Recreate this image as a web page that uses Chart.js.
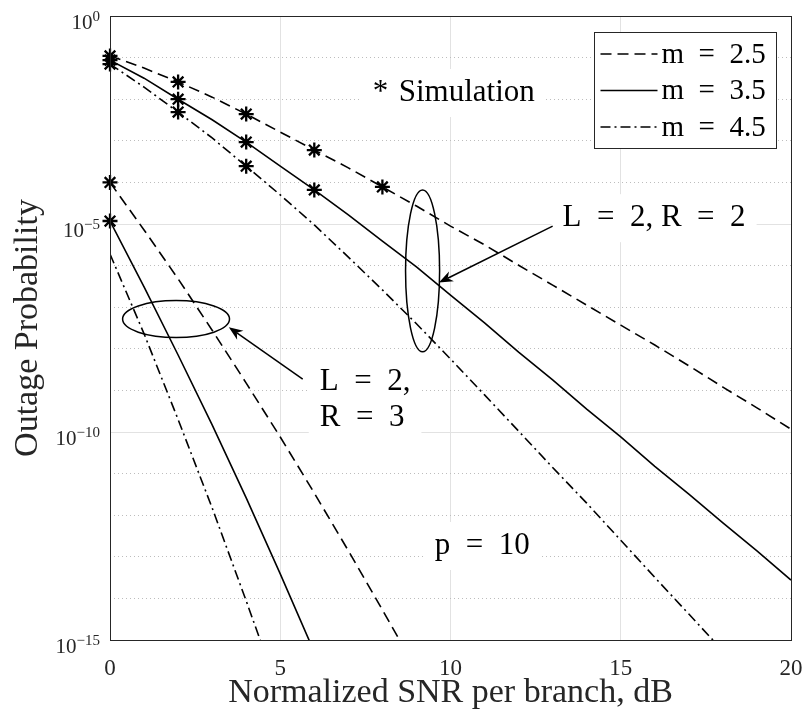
<!DOCTYPE html>
<html>
<head>
<meta charset="utf-8">
<script src="https://cdn.jsdelivr.net/npm/chart.js@4.4.1/dist/chart.umd.min.js"></script>
<style>
  html, body { margin: 0; padding: 0; background: #fff; }
</style>
</head>
<body>
<canvas id="chart" width="807" height="715"></canvas>
<script>
// SNR axis (dB)
let snrDb = [0, 1, 2, 3, 4, 5, 6, 7, 8, 9, 10, 11, 12, 13, 14, 15, 16, 17, 18, 19, 20]

// analytic curves, L = 2, R = 2
let r2m25 = [1.1e-1, 5.6e-2, 2.6e-2, 1.12e-2, 4.4e-3, 1.62e-3, 6.0e-4, 2.24e-4, 7.8e-5, 2.7e-5, 8.9e-6,
             3.16e-6, 1.02e-6, 3.4e-7, 1.12e-7, 3.7e-8, 1.23e-8, 3.9e-9, 1.2e-9, 3.8e-10, 1.17e-10]
let r2m35 = [8.7e-2, 3.2e-2, 1.0e-2, 3.2e-3, 9.3e-4, 2.45e-4, 6.6e-5, 1.66e-5, 3.9e-6, 9.3e-7, 1.95e-7,
             4.2e-8, 8.3e-9, 1.78e-9, 3.55e-10, 7.6e-11, 1.5e-11, 3.2e-12, 6.5e-13, 1.38e-13, 2.75e-14]
let r2m45 = [7.0e-2, 1.95e-2, 4.9e-3, 1.17e-3, 2.45e-4, 5.0e-5, 9.5e-6, 1.6e-6, 2.6e-7, 4.0e-8, 5.7e-9,
             7.8e-10, 1.05e-10, 1.4e-11, 1.95e-12, 2.5e-13, 3.2e-14, 4.2e-15, 5.5e-16]

// analytic curves, L = 2, R = 3
let r3m25 = [1.0e-4, 7.2e-6, 4.8e-7, 2.8e-8, 1.5e-9, 7.6e-11, 3.4e-12, 1.4e-13, 5.3e-15, 1.9e-16]
let r3m35 = [1.18e-5, 3.1e-7, 7.1e-9, 1.48e-10, 2.6e-12, 3.9e-14, 5.1e-16]
let r3m45 = [1.9e-6, 2.3e-8, 2.0e-10, 1.5e-12, 8.7e-15, 4.5e-17]

// simulation points
let simSnrA = [0, 2, 4, 6, 8]
let simA = [1.1e-1, 2.6e-2, 4.4e-3, 6.0e-4, 7.8e-5]
let simSnrB = [0, 2, 4, 6]
let simB = [8.7e-2, 1.0e-2, 9.3e-4, 6.6e-5]
let simSnrC = [0, 2, 4]
let simC = [7.0e-2, 4.9e-3, 2.45e-4]
let simSnrD = [0, 0]
let simD = [1.0e-4, 1.18e-5]

// axis ticks
let xTicks = [0, 5, 10, 15, 20]
let yTickExps = [0, -1, -2, -3, -4, -5, -6, -7, -8, -9, -10, -11, -12, -13, -14, -15]
let yLabelExps = [0, -5, -10, -15]
let legendNames = ['m = 2.5', 'm = 3.5', 'm = 4.5']

const FONT = "'Liberation Serif', 'Times New Roman', serif"
const TXT = '#262626'
const DASH = [11, 6]
const DASHDOT = [10, 4, 2, 4]

let pts = (xs, ys) => ys.map((y, i) => ({ x: xs[i], y: y }))

function lineSet(data, dash, name) {
    return {
        data: pts(snrDb, data),
        borderColor: '#000',
        borderWidth: 1.6,
        borderDash: dash,
        pointRadius: 0,
        tension: 0,
        legendText: name
    }
}

function starSet(xs, ys) {
    return {
        data: pts(xs, ys),
        showLine: false,
        pointStyle: 'star',
        pointRadius: 7.5,
        borderWidth: 2.3,
        borderColor: '#000',
        backgroundColor: '#000',
        clip: false
    }
}

// annotations (data coordinates)
let notes = [
    { lines: ['*\u2004Simulation'], x: 7.72, y: 1.41e-2 },
    { lines: ['L\u2002=\u20022, R\u2002=\u20022'], x: 13.29, y: 1.38e-5 },
    { lines: ['L\u2002=\u20022,', 'R\u2002=\u20023'], x: 6.16, y: 1.58e-9 },
    { lines: ['p\u2002=\u200210'], x: 9.54, y: 1.82e-13 }
]
let ellipses = [
    { x0: 8.68, x1: 9.68, y0: 6.6e-5, y1: 8.5e-9 },
    { x0: 0.37, x1: 3.51, y0: 1.44e-7, y1: 1.86e-8 }
]
let arrows = [
    { fx: 13.0, fy: 8.9e-6, tx: 9.66, ty: 3.9e-7 },
    { fx: 5.66, fy: 1.86e-9, tx: 3.49, ty: 3.3e-8 }
]

const NOTE_FONT = '31px ' + FONT
const NOTE_LH = 36

function noteBox(chart, n) {
    let ctx = chart.ctx
    let xs = chart.scales.x, ys = chart.scales.y
    ctx.font = NOTE_FONT
    let w = Math.max(...n.lines.map(t => ctx.measureText(t).width))
    let x = xs.getPixelForValue(n.x)
    let y = ys.getPixelForValue(n.y)
    return { x: x - 11, y: y - NOTE_LH / 2 - 6, w: w + 22, h: n.lines.length * NOTE_LH + 12, tx: x, ty: y }
}

const notePlugin = {
    id: 'notes',
    beforeDatasetsDraw(chart) {
        let ctx = chart.ctx
        ctx.save()
        ctx.fillStyle = '#fff'
        notes.forEach(n => {
            let b = noteBox(chart, n)
            ctx.fillRect(b.x, b.y, b.w, b.h)
        })
        ctx.restore()
    },
    afterDatasetsDraw(chart) {
        let ctx = chart.ctx
        let xs = chart.scales.x, ys = chart.scales.y
        let area = chart.chartArea
        ctx.save()

        // texts
        ctx.fillStyle = '#000'
        ctx.textAlign = 'left'
        ctx.textBaseline = 'middle'
        notes.forEach(n => {
            let b = noteBox(chart, n)
            ctx.font = NOTE_FONT
            n.lines.forEach((t, i) => ctx.fillText(t, b.tx, b.ty + i * NOTE_LH))
        })

        // ellipses
        ctx.strokeStyle = '#000'
        ctx.lineWidth = 1.5
        ellipses.forEach(e => {
            let x0 = xs.getPixelForValue(e.x0), x1 = xs.getPixelForValue(e.x1)
            let y0 = ys.getPixelForValue(e.y0), y1 = ys.getPixelForValue(e.y1)
            ctx.beginPath()
            ctx.ellipse((x0 + x1) / 2, (y0 + y1) / 2, Math.abs(x1 - x0) / 2, Math.abs(y1 - y0) / 2, 0, 0, Math.PI * 2)
            ctx.stroke()
        })

        // arrows
        arrows.forEach(a => {
            let fx = xs.getPixelForValue(a.fx), fy = ys.getPixelForValue(a.fy)
            let tx = xs.getPixelForValue(a.tx), ty = ys.getPixelForValue(a.ty)
            let ang = Math.atan2(ty - fy, tx - fx)
            let len = 14, half = 5.5
            let bx = tx - Math.cos(ang) * len, by = ty - Math.sin(ang) * len
            let nx = tx - Math.cos(ang) * len * 0.7, ny = ty - Math.sin(ang) * len * 0.7
            ctx.beginPath()
            ctx.moveTo(fx, fy)
            ctx.lineTo(nx, ny)
            ctx.stroke()
            ctx.beginPath()
            ctx.moveTo(tx, ty)
            ctx.lineTo(bx - Math.sin(ang) * half, by + Math.cos(ang) * half)
            ctx.lineTo(nx, ny)
            ctx.lineTo(bx + Math.sin(ang) * half, by - Math.cos(ang) * half)
            ctx.closePath()
            ctx.fillStyle = '#000'
            ctx.fill()
        })

        // axes frame
        ctx.strokeStyle = TXT
        ctx.lineWidth = 1
        ctx.setLineDash([])
        ctx.strokeRect(Math.round(area.left) + 0.5, Math.round(area.top) + 0.5,
            Math.round(area.right - area.left), Math.round(area.bottom - area.top))

        // y tick labels: 10 with raised exponent, right aligned at the axis
        let right = area.left - 10
        ys.ticks.forEach(t => {
            let e = Math.round(Math.log10(t.value))
            if (!yLabelExps.includes(e)) return
            let y = ys.getPixelForValue(t.value)
            let ex = String(e).replace('-', '\u2212')
            ctx.fillStyle = TXT
            ctx.textAlign = 'right'
            ctx.textBaseline = 'alphabetic'
            ctx.font = '15px ' + FONT
            let ew = ctx.measureText(ex).width
            ctx.fillText(ex, right, y + 5)
            ctx.font = '21px ' + FONT
            ctx.fillText('10', right - ew, y + 13)
        })
        ctx.restore()
    }
}

const legendPlugin = {
    id: 'boxLegend',
    afterDraw(chart) {
        let ctx = chart.ctx
        let area = chart.chartArea
        let items = chart.data.datasets.filter(d => d.legendText)
        let w = 182, rowH = 36.5
        let left = Math.round(area.right - 15 - w) + 0.5
        let top = Math.round(area.top + 16) + 0.5
        let h = 116
        ctx.save()
        ctx.fillStyle = '#fff'
        ctx.fillRect(left, top, w, h)
        ctx.strokeStyle = TXT
        ctx.lineWidth = 1
        ctx.strokeRect(left, top, w, h)
        ctx.font = '29px ' + FONT
        ctx.textBaseline = 'middle'
        ctx.textAlign = 'left'
        items.forEach((d, i) => {
            let cy = top + 21.5 + i * rowH
            ctx.strokeStyle = '#000'
            ctx.lineWidth = 1.6
            ctx.setLineDash(d.borderDash)
            ctx.beginPath()
            ctx.moveTo(left + 6, cy)
            ctx.lineTo(left + 63, cy)
            ctx.stroke()
            ctx.setLineDash([])
            ctx.fillStyle = '#000'
            ctx.fillText(d.legendText.replace(/ = /, '\u2002=\u2002'), left + 67, cy + 1)
        })
        ctx.restore()
    }
}

let isMinor = ctx => ctx.tick && Math.round(Math.log10(ctx.tick.value)) % 5 !== 0

let chart = new Chart(document.getElementById('chart'), {
    type: 'line',
    data: {
        datasets: [
            lineSet(r2m25, DASH, legendNames[0]),
            lineSet(r2m35, [], legendNames[1]),
            lineSet(r2m45, DASHDOT, legendNames[2]),
            lineSet(r3m25, DASH),
            lineSet(r3m35, []),
            lineSet(r3m45, DASHDOT),
            starSet(simSnrA, simA),
            starSet(simSnrB, simB),
            starSet(simSnrC, simC),
            starSet(simSnrD, simD)
        ]
    },
    options: {
        responsive: false,
        animation: false,
        font: { family: FONT },
        layout: { padding: { top: 16, right: 16, left: 0, bottom: 0 } },
        plugins: {
            legend: { display: false },
            tooltip: { enabled: false }
        },
        scales: {
            x: {
                type: 'linear',
                min: 0,
                max: 20,
                afterFit: s => { s.height = 75; s.paddingLeft = 0; s.paddingRight = 0 },
                afterBuildTicks: s => { s.ticks = xTicks.map(v => ({ value: v })) },
                ticks: { padding: 15, color: TXT, font: { family: FONT, size: 23 }, maxRotation: 0 },
                grid: { color: '#e2e2e2', drawTicks: false },
                border: { display: false },
                title: {
                    display: true,
                    text: 'Normalized SNR per branch, dB',
                    color: TXT,
                    font: { family: FONT, size: 34 },
                    padding: { top: 0, bottom: 2 }
                }
            },
            y: {
                type: 'logarithmic',
                min: 1e-15,
                max: 1,
                afterFit: s => { s.width = 110; s.paddingTop = 0; s.paddingBottom = 0 },
                afterBuildTicks: s => { s.ticks = yTickExps.map(e => ({ value: Number('1e' + e) })) },
                ticks: {
                    autoSkip: false,
                    callback: () => ''
                },
                grid: {
                    drawTicks: false,
                    color: ctx => isMinor(ctx) ? '#bdbdbd' : '#e2e2e2'
                },
                border: {
                    display: false,
                    dash: ctx => isMinor(ctx) ? [1, 3] : []
                },
                title: {
                    display: true,
                    text: 'Outage Probability',
                    color: TXT,
                    font: { family: FONT, size: 34 },
                    padding: { top: 8, bottom: 0 }
                }
            }
        }
    },
    plugins: [notePlugin, legendPlugin]
})
</script>
</body>
</html>
